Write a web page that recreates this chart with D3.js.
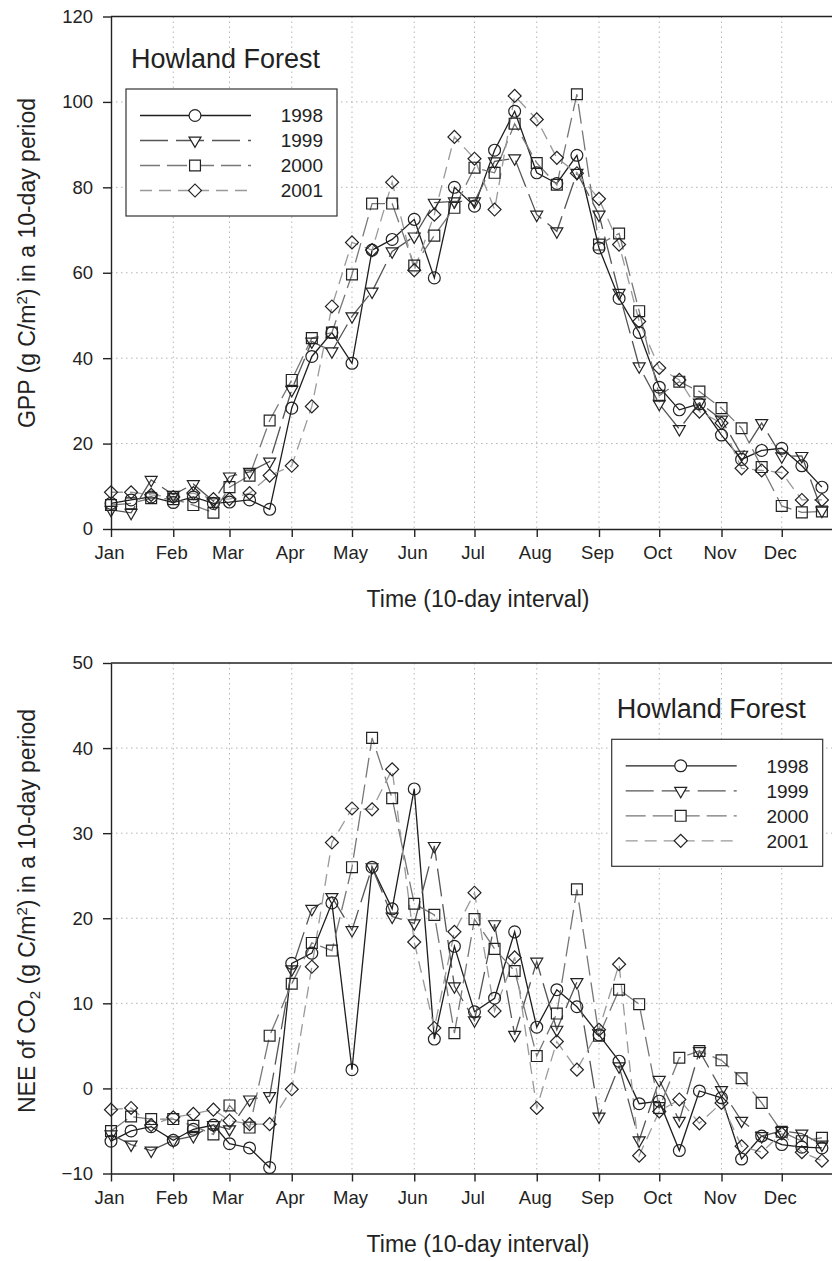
<!DOCTYPE html>
<html><head><meta charset="utf-8">
<style>
body { margin: 0; background: #fff; }
svg { display: block; font-family: "Liberation Sans", Arial, Helvetica, sans-serif; }
</style>
</head>
<body>
<svg id="chart" width="832" height="1261"></svg>
<script src="https://cdn.jsdelivr.net/npm/d3@7"></script>
<script>
const periods = ["01-01","01-11","01-21","02-01","02-11","02-21","03-01","03-11","03-21",
  "04-01","04-11","04-21","05-01","05-11","05-21","06-01","06-11","06-21",
  "07-01","07-11","07-21","08-01","08-11","08-21","09-01","09-11","09-21",
  "10-01","10-11","10-21","11-01","11-11","11-21","12-01","12-11","12-21"];
const monthStarts = ["01-01","02-01","03-01","04-01","05-01","06-01","07-01","08-01","09-01","10-01","11-01","12-01"];
const monthLabels = ["Jan","Feb","Mar","Apr","May","Jun","Jul","Aug","Sep","Oct","Nov","Dec"];
const years = ["1998", "1999", "2000", "2001"];

const gpp1998 = [6.0,6.8,7.5,6.2,7.5,6.0,6.3,6.8,4.6,28.3,40.4,46.0,38.8,65.3,67.8,72.5,58.8,80.0,
  75.6,88.7,97.8,83.4,80.9,87.5,65.8,54.0,46.0,33.2,27.9,29.3,22.0,16.3,18.4,18.9,14.8,9.8];
const gpp1999 = [4.5,3.8,11.5,8.0,10.5,6.5,12.3,13.4,15.8,32.6,43.9,41.6,49.8,55.6,65.0,68.5,76.4,76.7,
  76.7,86.1,86.8,73.6,69.7,83.4,73.6,55.3,38.1,29.3,23.4,29.6,25.6,17.4,24.8,17.0,17.1,4.3];
const gpp2000 = [5.6,6.0,7.2,7.0,5.6,3.8,9.8,12.5,25.4,34.9,44.7,46.0,59.6,76.2,76.2,61.7,68.7,75.2,
  84.6,83.4,94.9,85.7,80.6,101.8,66.6,69.2,51.0,31.2,34.5,32.2,28.3,23.6,14.5,5.4,3.9,4.1];
const gpp2001 = [8.6,8.6,8.0,7.5,8.4,7.0,7.0,8.4,12.5,14.8,28.7,52.1,67.1,65.3,81.2,60.6,73.6,91.8,
  86.7,74.8,101.4,95.9,86.9,83.3,77.3,66.6,48.6,37.7,34.9,27.5,24.8,14.2,13.7,13.2,6.8,6.8];

const nee1998 = [-6.2,-5.0,-4.5,-6.1,-4.8,-4.3,-6.5,-7.0,-9.3,14.7,15.9,21.8,2.2,26.0,21.1,35.2,5.8,16.7,
  9.0,10.6,18.4,7.2,11.6,9.6,6.3,3.2,-1.8,-1.5,-7.3,-0.3,-1.1,-8.3,-5.6,-6.6,-6.9,-7.0];
const nee1999 = [-5.4,-6.6,-7.3,-6.1,-5.6,-4.3,-4.8,-1.3,-0.9,14.0,21.1,22.5,18.6,26.0,20.2,19.4,28.5,12.0,
  8.0,19.3,6.3,14.9,6.9,12.5,-3.3,2.6,-6.1,1.0,-3.8,4.4,-0.2,-3.8,-5.6,-5.0,-5.3,-6.6];
const nee2000 = [-5.0,-3.3,-3.6,-3.6,-4.4,-5.4,-2.0,-4.6,6.2,12.3,17.1,16.2,26.0,41.2,34.1,21.7,20.4,6.5,
  19.9,16.4,13.8,3.8,8.8,23.4,6.2,11.6,9.9,-2.3,3.6,4.4,3.3,1.2,-1.7,-5.1,-6.2,-5.8];
const nee2001 = [-2.5,-2.3,-4.3,-3.4,-3.0,-2.5,-3.8,-4.2,-4.2,-0.1,14.3,28.9,32.9,32.8,37.5,17.2,7.1,18.4,
  23.0,9.1,15.4,-2.3,5.5,2.2,6.9,14.6,-7.9,-2.7,-1.3,-4.1,-1.7,-6.8,-7.5,-5.3,-7.5,-8.5];

const gppTicks = [0, 20, 40, 60, 80, 100, 120];
const neeTicks = [-10, 0, 10, 20, 30, 40, 50];

const styles = [
  { stroke: "#1e1e1e", dash: null,   symbol: d3.symbolCircle,   rotate: 0,   size: 110 },
  { stroke: "#555",    dash: "28,8", symbol: d3.symbolTriangle, rotate: 180, size: 62 },
  { stroke: "#777",    dash: "20,7", symbol: d3.symbolSquare,   rotate: 0,   size: 118 },
  { stroke: "#999",    dash: "12,7", symbol: d3.symbolSquare,   rotate: 45,  size: 84 }
];

const parse = d3.timeParse("%Y-%m-%d");
const day = s => parse("2001-" + s);
const x = d3.scaleTime().domain([day("01-01"), day("12-31")]).range([111, 842]);

const svg = d3.select("#chart");

function panel(opts) {
  const y = d3.scaleLinear().domain(opts.domain).range([opts.bottom, opts.top]);
  const g = svg.append("g");

  // dotted grid at month starts and y ticks
  g.append("g").selectAll("line").data(monthStarts.slice(1)).join("line")
    .attr("x1", d => x(day(d))).attr("x2", d => x(day(d)))
    .attr("y1", opts.top).attr("y2", opts.bottom)
    .attr("stroke", "#b5b5b5").attr("stroke-width", 1).attr("stroke-dasharray", "1.5,3.5");
  g.append("g").selectAll("line").data(opts.ticks.slice(1, -1)).join("line")
    .attr("x1", x.range()[0]).attr("x2", x.range()[1])
    .attr("y1", d => y(d)).attr("y2", d => y(d))
    .attr("stroke", "#b5b5b5").attr("stroke-width", 1).attr("stroke-dasharray", "1.5,3.5");

  const line = d3.line().x((d, i) => x(day(periods[i]))).y(d => y(d));

  opts.series.forEach((vals, k) => {
    const s = styles[k];
    g.append("path").datum(vals)
      .attr("d", line).attr("fill", "none")
      .attr("stroke", s.stroke).attr("stroke-width", 1.3)
      .attr("stroke-dasharray", s.dash);
  });
  opts.series.forEach((vals, k) => {
    const s = styles[k];
    g.append("g").selectAll("path").data(vals).join("path")
      .attr("d", d3.symbol(s.symbol, s.size))
      .attr("transform", (d, i) => `translate(${x(day(periods[i]))},${y(d)}) rotate(${s.rotate})`)
      .attr("fill", "none").attr("stroke", "#222").attr("stroke-width", 1.2);
  });

  // legend
  const lg = g.append("g").attr("transform", `translate(${opts.legend[0]},${opts.legend[1]})`);
  lg.append("text").attr("x", 5).attr("y", -21).attr("font-size", 27).attr("fill", "#222")
    .text("Howland Forest");
  lg.append("rect").attr("width", 211).attr("height", 127)
    .attr("fill", "#fff").attr("stroke", "#333").attr("stroke-width", 1.2);
  years.forEach((yr, k) => {
    const s = styles[k];
    const cy = 26.5 + k * 25;
    lg.append("line").attr("x1", 14).attr("x2", 125).attr("y1", cy).attr("y2", cy)
      .attr("stroke", s.stroke).attr("stroke-width", 1.3).attr("stroke-dasharray", s.dash);
    lg.append("path").attr("d", d3.symbol(s.symbol, s.size))
      .attr("transform", `translate(69,${cy}) rotate(${s.rotate})`)
      .attr("fill", "#fff").attr("stroke", "#222").attr("stroke-width", 1.2);
    lg.append("text").attr("x", 197).attr("y", cy).attr("dy", "0.36em")
      .attr("text-anchor", "end").attr("font-size", 19).attr("fill", "#222").text(yr);
  });

  // axes
  const xAxis = g.append("g").attr("transform", `translate(0,${opts.bottom})`)
    .call(d3.axisBottom(x).tickValues(monthStarts.map(day)).tickFormat((d, i) => monthLabels[i])
      .tickSize(8).tickSizeOuter(0).tickPadding(9));
  const yAxis = g.append("g").attr("transform", `translate(${x.range()[0]},0)`)
    .call(d3.axisLeft(y).tickValues(opts.ticks).tickSize(8).tickSizeOuter(0).tickPadding(10));
  [xAxis, yAxis].forEach(a => {
    a.selectAll("path, line").attr("stroke", "#222").attr("stroke-width", 1.4);
    a.selectAll("text").attr("font-size", 18.5).attr("fill", "#222")
      .attr("font-family", "'Liberation Sans', Arial, sans-serif");
  });
  xAxis.selectAll("text").attr("dx", -2);
  g.append("line").attr("x1", x.range()[0]).attr("x2", x.range()[1])
    .attr("y1", opts.top).attr("y2", opts.top).attr("stroke", "#222").attr("stroke-width", 1.4);

  g.append("text").attr("x", 478).attr("y", opts.bottom + 78)
    .attr("text-anchor", "middle").attr("font-size", 23).attr("fill", "#222")
    .text("Time (10-day interval)");

  const yt = g.append("text")
    .attr("transform", `translate(35,${opts.titleY}) rotate(-90)`)
    .attr("text-anchor", "middle").attr("font-size", 23).attr("fill", "#222");
  opts.yTitle.forEach(p => {
    yt.append("tspan").attr("dy", p.dy || 0).attr("font-size", p.small ? 15 : null).text(p.t);
  });
}

panel({
  domain: [0, 120], ticks: gppTicks, top: 16.5, bottom: 529,
  series: [gpp1998, gpp1999, gpp2000, gpp2001],
  legend: [126, 89], titleY: 263,
  yTitle: [{ t: "GPP (g C/m" }, { t: "2", dy: -8, small: true }, { t: ") in a 10-day period", dy: 8 }]
});

panel({
  domain: [-10, 50], ticks: neeTicks, top: 663, bottom: 1173.5,
  series: [nee1998, nee1999, nee2000, nee2001],
  legend: [611.7, 739.3], titleY: 911,
  yTitle: [{ t: "NEE of CO" }, { t: "2", dy: 5, small: true }, { t: " (g C/m", dy: -5 },
           { t: "2", dy: -8, small: true }, { t: ") in a 10-day period", dy: 8 }]
});
</script>
</body>
</html>
